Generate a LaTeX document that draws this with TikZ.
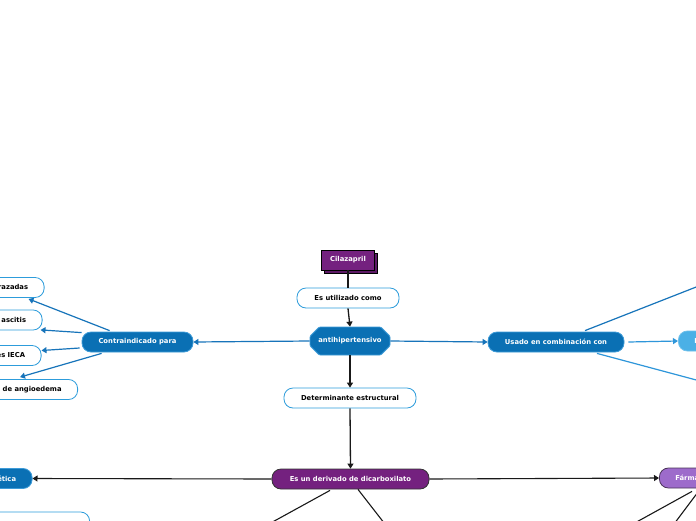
\documentclass[tikz,border=0pt]{standalone}
\usepackage{fontspec}
\setmainfont{DejaVu Sans}
\usetikzlibrary{arrows.meta,shapes.misc,shadows}
\definecolor{dblue}{HTML}{0A70B4}
\definecolor{dblueb}{HTML}{3D9BD8}
\definecolor{lblue}{HTML}{2D9CDB}
\definecolor{sky}{HTML}{4BB0E6}
\definecolor{purp}{HTML}{74217F}
\definecolor{lav}{HTML}{9D6BCB}
\definecolor{lavb}{HTML}{4A3458}
\definecolor{lineblue}{HTML}{1774BA}
\definecolor{linelight}{HTML}{2E96DA}
\begin{document}
\begin{tikzpicture}[x=1pt,y=-1pt,
  base/.style={font=\bfseries\fontsize{6.8}{8}\selectfont, inner xsep=16pt, inner ysep=0pt, minimum height=20pt, rounded corners=9pt, line width=0.8pt},
  bluebox/.style={base, fill=dblue, draw=dblueb, text=white},
  whitebox/.style={base, fill=white, draw=lblue, text=black},
  purpbox/.style={base, fill=purp, draw=black!80, text=white},
  lavbox/.style={base, fill=lav, draw=lavb, text=white},
  skybox/.style={base, fill=sky, draw=sky!80!white, text=white},
  blk/.style={draw=black!90, line width=1.3pt},
  blkarr/.style={blk, -{Triangle[length=5pt,width=6pt]}},
  bl/.style={draw=lineblue, line width=1.2pt},
  blarr/.style={bl, -{Triangle[length=5pt,width=6pt]}},
  ll/.style={draw=linelight, line width=1.2pt},
  llarr/.style={ll, -{Triangle[length=5pt,width=6pt]}}
]
\useasboundingbox (0,0) rectangle (696,520);
\clip (0,0) rectangle (696,520);
\fill[white] (0,0) rectangle (696,520);

% center chain
\node[base, rounded corners=0pt, fill=purp, draw=black, text=white, minimum width=53pt, minimum height=20pt, inner xsep=2pt,
  copy shadow={shadow xshift=3pt, shadow yshift=-3pt, fill=purp!80!black, draw=black}] (cil) at (348,260) {Cilazapril};
\node[whitebox, minimum width=102pt, inner xsep=2pt] (esu) at (348,298) {Es utilizado como};
\node[base, chamfered rectangle, chamfered rectangle xsep=10pt, chamfered rectangle ysep=6pt, rounded corners=1pt,
  fill=dblue, draw=dblueb, text=white, minimum width=80pt, minimum height=28pt, inner xsep=2pt] (anti) at (350,341) {antihipertensivo};
\node[whitebox, minimum width=132pt, inner xsep=2pt] (det) at (350,398) {Determinante estructural};
\node[purpbox, minimum width=157pt, inner xsep=2pt] (der) at (350.5,479) {Es un derivado de dicarboxilato};

\draw[blk, line width=2.4pt] (cil.south) -- (esu.north);
\draw[blkarr] (esu.south) -- (anti.north);
\draw[blkarr] (anti.south) -- (det.north);
\draw[blkarr] (det.south) -- (der.north);

% left branch
\node[bluebox, minimum width=111pt, inner xsep=2pt] (contra) at (137.5,342) {Contraindicado para};
\node[whitebox, anchor=east] (n1) at (44.5,287.5) {Mujeres embarazadas};
\node[whitebox, anchor=east] (n2) at (42.5,320) {Pacientes con ascitis};
\node[whitebox, anchor=east] (n3) at (41.5,355.5) {Alergia a inhibidores IECA};
\node[whitebox, anchor=east] (n4) at (78,389.5) {Antecedentes de angioedema};

\draw[blarr] (anti.west) -- (contra.east);
\draw[blarr] ([shift={(28pt,1pt)}]contra.north west) -- ([shift={(-16pt,-1pt)}]n1.south east);
\draw[blarr] ([shift={(0pt,-1pt)}]contra.north west) -- ([shift={(-2pt,0.5pt)}]n2.south east);
\draw[blarr] ([shift={(-2pt,-6pt)}]contra.west) -- ([shift={(0pt,5pt)}]n3.east);
\draw[blarr] ([shift={(20pt,-1pt)}]contra.south west) -- ([shift={(-58pt,2pt)}]n4.north east);

% right branch
\node[bluebox, minimum width=136pt, inner xsep=2pt] (usado) at (556,342) {Usado en combinación con};
\node[skybox, anchor=west] (lb) at (678,341) {Diuréticos};
\coordinate (tr1) at (700,285.5);
\coordinate (br1) at (700,381);

\draw[blarr] (anti.east) -- (usado.west);
\draw[llarr] ([xshift=4pt]usado.east) -- (lb.west);
\draw[bl] ([shift={(29pt,1pt)}]usado.north) -- (tr1);
\draw[ll] ([shift={(41pt,-1pt)}]usado.south) -- (br1);

% bottom branch
\node[bluebox, anchor=east] (etica) at (32.5,478.5) {Farmacocinética};
\node[whitebox, anchor=east, minimum width=200pt] (bw) at (90,522) {};
\node[lavbox, anchor=west] (farm) at (659,478) {Fármacos};
\coordinate (bl1) at (261.6,528);
\coordinate (bl2) at (388,528);
\coordinate (fr1) at (625.7,528);
\coordinate (fr2) at (671,528);

\draw[blkarr, line width=1.1pt] (der.west) -- (etica.east);
\draw[blkarr, line width=1.1pt] (der.east) -- (farm.west);
\draw[blk, line width=1.1pt] ([shift={(-20.5pt,-1pt)}]der.south) -- (bl1);
\draw[blk, line width=1.1pt] ([shift={(7.5pt,0pt)}]der.south) -- (bl2);
\draw[blk, line width=1.1pt] ([shift={(33pt,-3pt)}]farm.south west) -- (fr1);
\draw[blk, line width=1.1pt] ([shift={(38pt,-5pt)}]farm.south west) -- (fr2);
\end{tikzpicture}
\end{document}
